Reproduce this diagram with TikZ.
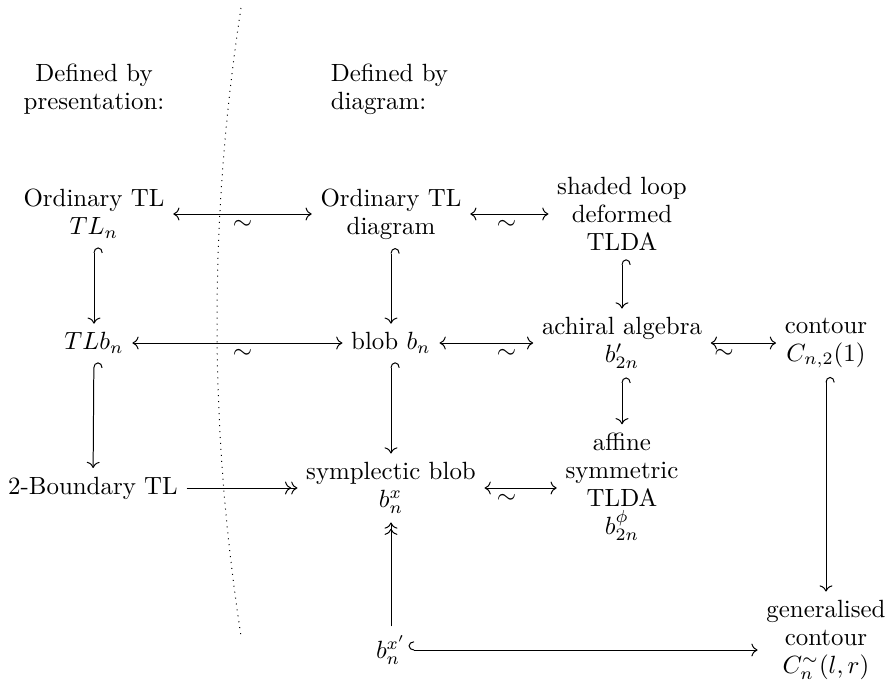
\documentclass[tikz,border=0pt]{standalone}
\usetikzlibrary{arrows.meta,calc}
\begin{document}
\begin{tikzpicture}[x=0.4016pt,y=-0.4016pt,
  lbl/.style={align=center, font=\fontsize{10}{11.2}\selectfont},
  iso/.style={<->},
  inc/.style={{Hooks[right,width=7pt,length=2.2pt]}->},
  sur/.style={->>},
  tl/.style={below, inner sep=2.5pt}]
\useasboundingbox (0,0) rectangle (889,691);
% divider
\draw[dotted] (241,8) .. controls (209,217) and (209,427) .. (241,636);
% headings
\node[lbl] (H1) at (94,89) {Defined by\\presentation:};
\node[lbl, align=left, anchor=west] (H2) at (322,89) {Defined by\\diagram:};
% nodes
\node[lbl] (TL)  at (94,214)  {Ordinary TL\\$TL_n$};
\node[lbl] (OTD) at (391,214) {Ordinary TL\\diagram};
\node[lbl] (SH)  at (622,214) {shaded loop\\deformed\\TLDA};
\node[lbl] (TLb) at (94,343)  {$TLb_n$};
\node[lbl] (BL)  at (391,343) {blob $b_n$};
\node[lbl] (AC)  at (622,343) {achiral algebra\\$b'_{2n}$};
\node[lbl] (CO)  at (826,343) {contour\\$C_{n,2}(1)$};
\node[lbl] (BT)  at (93,488)  {2-Boundary TL};
\node[lbl] (SY)  at (391,488) {symplectic blob\\$b_n^x$};
\node[lbl] (AF)  at (622,487) {affine\\symmetric\\TLDA\\$b_{2n}^\phi$};
\node[lbl] (BX)  at (391,650) {$b_n^{x'}$};
\node[lbl] (GC)  at (826,640) {generalised\\contour\\$C_n^{\sim}(l,r)$};
% horizontal isomorphisms (label halfway between node centres)
\draw[iso] (TL) -- (OTD);
\path (TL.center) -- node[tl] {$\sim$} (OTD.center);
\draw[iso] (OTD) -- (SH);
\path (OTD.center) -- node[tl] {$\sim$} (SH.center);
\draw[iso] (TLb) -- (BL);
\path (TLb.center) -- node[tl] {$\sim$} (BL.center);
\draw[iso] (BL) -- (AC);
\path (BL.center) -- node[tl] {$\sim$} (AC.center);
\draw[iso] (AC) -- (CO);
\path (AC.center) -- node[tl] {$\sim$} (CO.center);
\draw[iso] (SY) -- (SY -| AF.west);
\path (SY.center) -- node[tl] {$\sim$} (SY.center -| AF.center);
\draw[sur] (BT) -- (SY);
% vertical
\draw[inc] (TL) -- (TLb);
\draw[inc] (TLb) -- (BT);
\draw[inc] (OTD) -- (BL);
\draw[inc] (BL) -- (SY);
\draw[inc] (SH) -- (AC);
\draw[inc] (AC) -- (AF);
\draw[inc] (CO) -- (GC);
\draw[sur] (BX) -- (SY);
\draw[inc] ([xshift=-2.5pt]BX.east) -- (BX.east -| GC.west);
\end{tikzpicture}
\end{document}
